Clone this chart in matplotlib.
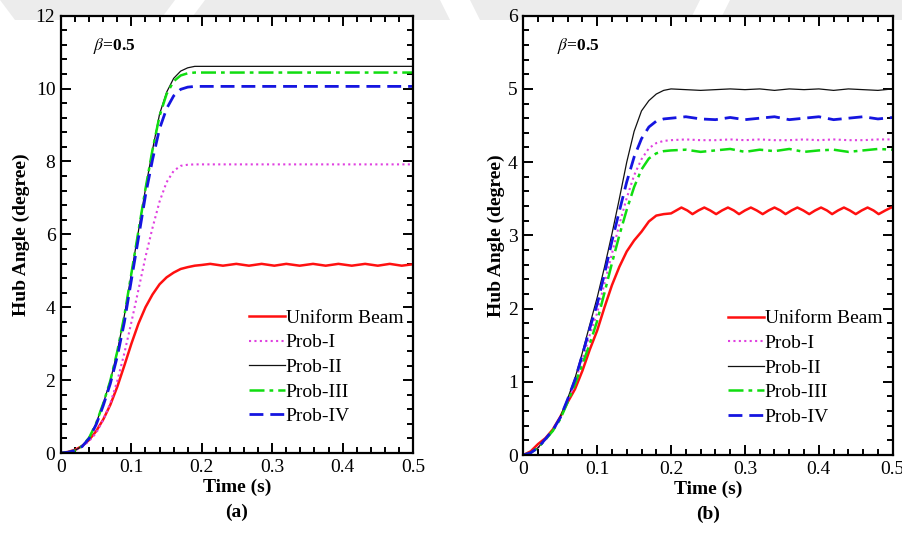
import matplotlib
matplotlib.use("Agg")
import matplotlib.pyplot as plt
from matplotlib.ticker import MultipleLocator, FuncFormatter
from matplotlib.patches import Polygon

plt.rcParams['font.family'] = ['Liberation Serif', 'DejaVu Serif']
plt.rcParams['mathtext.fontset'] = 'stix'

# ---------------- data: panel (a) ----------------
t_a = [0.00, 0.01, 0.02, 0.03, 0.04, 0.05, 0.06, 0.07, 0.08, 0.09, 0.10,
       0.11, 0.12, 0.13, 0.14, 0.15, 0.16, 0.17, 0.18, 0.19, 0.20,
       0.212, 0.230, 0.249, 0.267, 0.285, 0.303, 0.320, 0.339, 0.358,
       0.376, 0.394, 0.413, 0.432, 0.450, 0.467, 0.484, 0.500]
uniform_a = [0.00, 0.03, 0.09, 0.19, 0.36, 0.60, 0.92, 1.32, 1.82, 2.40, 3.00,
             3.55, 4.00, 4.35, 4.63, 4.82, 4.95, 5.05, 5.10, 5.14, 5.16,
             5.19, 5.14, 5.19, 5.14, 5.19, 5.14, 5.19, 5.14, 5.19,
             5.14, 5.19, 5.14, 5.19, 5.14, 5.19, 5.14, 5.18]
prob1_a = [0.00, 0.02, 0.07, 0.17, 0.33, 0.55, 0.91, 1.36, 1.98, 2.74, 3.59,
           4.48, 5.38, 6.18, 6.90, 7.43, 7.74, 7.88, 7.91, 7.92, 7.92,
           7.92, 7.92, 7.92, 7.92, 7.92, 7.92, 7.92, 7.92, 7.92,
           7.92, 7.92, 7.92, 7.92, 7.92, 7.92, 7.92, 7.92]
prob2_a = [0.00, 0.02, 0.07, 0.19, 0.42, 0.82, 1.36, 1.98, 2.79, 3.77, 4.93,
           6.09, 7.25, 8.32, 9.30, 9.90, 10.28, 10.48, 10.57, 10.61, 10.61,
           10.61, 10.61, 10.61, 10.61, 10.61, 10.61, 10.61, 10.61, 10.61,
           10.61, 10.61, 10.61, 10.61, 10.61, 10.61, 10.61, 10.61]
prob3_a = [0.00, 0.02, 0.07, 0.19, 0.42, 0.82, 1.36, 1.98, 2.79, 3.77, 4.93,
           6.09, 7.25, 8.32, 9.25, 9.85, 10.20, 10.36, 10.42, 10.44, 10.44,
           10.44, 10.44, 10.44, 10.44, 10.44, 10.44, 10.44, 10.44, 10.44,
           10.44, 10.44, 10.44, 10.44, 10.44, 10.44, 10.44, 10.44]
prob4_a = [0.00, 0.02, 0.07, 0.18, 0.40, 0.78, 1.30, 1.90, 2.65, 3.59, 4.75,
           5.90, 7.07, 8.05, 8.90, 9.45, 9.80, 9.98, 10.04, 10.06, 10.06,
           10.06, 10.06, 10.06, 10.06, 10.06, 10.06, 10.06, 10.06, 10.06,
           10.06, 10.06, 10.06, 10.06, 10.06, 10.06, 10.06, 10.06]

# ---------------- data: panel (b) ----------------
t_b = [0.00, 0.01, 0.02, 0.03, 0.04, 0.05, 0.06, 0.07, 0.08, 0.09, 0.10,
       0.11, 0.12, 0.13, 0.14, 0.15, 0.16, 0.17, 0.18, 0.19, 0.20,
       0.22, 0.24, 0.26, 0.28, 0.30, 0.32, 0.34, 0.36, 0.38, 0.40,
       0.42, 0.44, 0.46, 0.48, 0.50]
prob2_b = [0.00, 0.03, 0.10, 0.22, 0.34, 0.52, 0.77, 1.05, 1.40, 1.78, 2.15,
           2.57, 3.02, 3.50, 4.00, 4.42, 4.70, 4.84, 4.93, 4.98, 5.00,
           4.99, 4.98, 4.99, 5.00, 4.99, 5.00, 4.98, 5.00, 4.99, 5.00,
           4.98, 5.00, 4.99, 4.98, 5.00]
prob4_b = [0.00, 0.03, 0.10, 0.22, 0.34, 0.51, 0.76, 1.03, 1.37, 1.73, 2.06,
           2.48, 2.92, 3.33, 3.73, 4.07, 4.32, 4.48, 4.56, 4.59, 4.60,
           4.62, 4.59, 4.58, 4.61, 4.58, 4.60, 4.62, 4.58, 4.60, 4.62,
           4.58, 4.60, 4.62, 4.59, 4.61]
prob1_b = [0.00, 0.03, 0.10, 0.21, 0.33, 0.50, 0.74, 1.00, 1.31, 1.64, 1.94,
           2.35, 2.75, 3.15, 3.51, 3.82, 4.04, 4.19, 4.26, 4.29, 4.30,
           4.31, 4.30, 4.30, 4.31, 4.30, 4.31, 4.30, 4.30, 4.31, 4.30,
           4.31, 4.30, 4.30, 4.31, 4.31]
prob3_b = [0.00, 0.03, 0.10, 0.21, 0.33, 0.49, 0.72, 0.97, 1.24, 1.52, 1.83,
           2.22, 2.62, 3.00, 3.35, 3.66, 3.90, 4.05, 4.12, 4.15, 4.16,
           4.17, 4.14, 4.16, 4.18, 4.14, 4.17, 4.15, 4.18, 4.14, 4.16,
           4.17, 4.14, 4.16, 4.18, 4.17]
t_b_uniform = [0.00, 0.01, 0.02, 0.03, 0.04, 0.05, 0.06, 0.07, 0.08, 0.09, 0.10,
               0.11, 0.12, 0.13, 0.14, 0.15, 0.16, 0.17, 0.18, 0.19, 0.20,
               0.207, 0.214, 0.222, 0.229, 0.237, 0.245, 0.253, 0.261, 0.269,
               0.277, 0.285, 0.292, 0.300, 0.308, 0.316, 0.324, 0.332, 0.340,
               0.348, 0.355, 0.363, 0.371, 0.379, 0.387, 0.395, 0.403, 0.411,
               0.418, 0.426, 0.434, 0.442, 0.450, 0.458, 0.466, 0.474, 0.481,
               0.490, 0.498, 0.500]
uniform_b = [0.00, 0.05, 0.15, 0.23, 0.35, 0.52, 0.72, 0.90, 1.15, 1.44, 1.70,
             2.02, 2.32, 2.57, 2.78, 2.93, 3.05, 3.19, 3.27, 3.29, 3.30,
             3.34, 3.38, 3.34, 3.29, 3.34, 3.38, 3.34, 3.29, 3.34,
             3.38, 3.34, 3.29, 3.34, 3.38, 3.34, 3.29, 3.34, 3.38,
             3.34, 3.29, 3.34, 3.38, 3.34, 3.29, 3.34, 3.38, 3.34,
             3.29, 3.34, 3.38, 3.34, 3.29, 3.34, 3.38, 3.34, 3.29,
             3.34, 3.38, 3.38]

labels = ['Uniform Beam', 'Prob-I', 'Prob-II', 'Prob-III', 'Prob-IV']
panel_tags = ['(a)', '(b)']

styles = [dict(color='#ff1010', lw=1.8, ls='-'),
          dict(color='#e040e0', lw=1.5, ls=(0, (1, 1.6))),
          dict(color='#111111', lw=0.9, ls='-'),
          dict(color='#10dd10', lw=1.8, ls=(0, (6, 2, 1.5, 2))),
          dict(color='#1515e0', lw=2.0, ls=(0, (5, 2.5)))]

fig = plt.figure(figsize=(9.03, 5.35), dpi=100)
fig.patch.set_facecolor('white')

# faint grey watermark at the top edge
W, H = 903, 535
def fpoly(pts, **kw):
    p = Polygon([(x / W, 1 - y / H) for x, y in pts], closed=True,
                transform=fig.transFigure, **kw)
    fig.patches.append(p)
for pts in [[(0, 0), (175, 0), (160, 20), (15, 20)],
            [(205, 0), (440, 0), (450, 20), (190, 20)],
            [(470, 0), (700, 0), (690, 20), (480, 20)],
            [(730, 0), (903, 0), (903, 20), (720, 20)]]:
    fpoly(pts, facecolor='#ececec', edgecolor='none', zorder=-5)

ax_a = fig.add_axes([61 / W, 1 - 453 / H, (413 - 61) / W, (453 - 15.7) / H])
ax_b = fig.add_axes([523.3 / W, 1 - 455 / H, (892.7 - 523.3) / W, (455 - 15.7) / H])

panels = [
    (ax_a, [uniform_a, prob1_a, prob2_a, prob3_a, prob4_a], [t_a] * 5, 12, 2, 0.4,
     (1.006, 0.037), -0.115, 4),
    (ax_b, [uniform_b, prob1_b, prob2_b, prob3_b, prob4_b],
     [t_b_uniform, t_b, t_b, t_b, t_b], 6, 1, 0.2, (1.004, 0.04), -0.115, 2),
]

for i, (ax, series, tlist, ymax, ymaj, ymin, lanchor, tagy, ylpad) in enumerate(panels):
    for ts, ys, lab, st in zip(tlist, series, labels, styles):
        ax.plot(ts, ys, label=lab, **st)
    ax.set_xlim(0, 0.5)
    ax.set_ylim(0, ymax)
    ax.xaxis.set_major_locator(MultipleLocator(0.1))
    ax.xaxis.set_minor_locator(MultipleLocator(0.02))
    ax.yaxis.set_major_locator(MultipleLocator(ymaj))
    ax.yaxis.set_minor_locator(MultipleLocator(ymin))
    ax.xaxis.set_major_formatter(FuncFormatter(
        lambda v, p: '0' if abs(v) < 1e-9 else f'{v:.1f}'))
    ax.tick_params(which='both', direction='in', top=True, right=True,
                   labelsize=14, width=1.4)
    ax.tick_params(which='major', length=7, pad=4)
    ax.tick_params(which='minor', length=4)
    for s in ax.spines.values():
        s.set_linewidth(1.6)
    ax.set_xlabel('Time (s)', fontsize=14, fontweight='bold', labelpad=2)
    ax.set_ylabel('Hub Angle (degree)', fontsize=14, fontweight='bold', labelpad=ylpad)
    ax.text(0.5, tagy, panel_tags[i], transform=ax.transAxes, ha='center',
            va='top', fontsize=14, fontweight='bold')
    ax.text(0.09, 0.93, r'$\beta$=0.5', transform=ax.transAxes, ha='left',
            va='center', fontsize=12.5, fontweight='bold')
    ax.legend(loc='lower right', bbox_to_anchor=lanchor, frameon=False,
              fontsize=14, handlelength=1.85, handletextpad=0.05,
              labelspacing=0.36, borderaxespad=0.2)

fig.savefig('out.png', dpi=100)
